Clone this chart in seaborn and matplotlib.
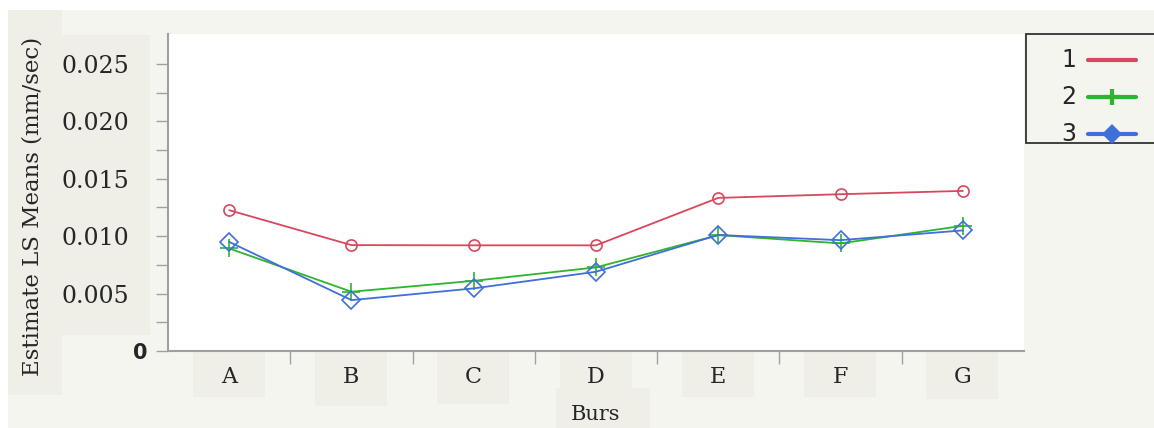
import numpy as np
import pandas as pd
import seaborn as sns
import matplotlib.pyplot as plt
from matplotlib.lines import Line2D
from matplotlib.patches import Rectangle
from matplotlib.ticker import FixedLocator

# data
burs = ['A', 'B', 'C', 'D', 'E', 'F', 'G']
series_1 = [0.01226, 0.00922, 0.00920, 0.00920, 0.01333, 0.01365, 0.01394]
series_2 = [0.00893, 0.00516, 0.00611, 0.00728, 0.01009, 0.00937, 0.01090]
series_3 = [0.00950, 0.00443, 0.00545, 0.00690, 0.01010, 0.00965, 0.01050]
series_names = ['1', '2', '3']

df = pd.DataFrame({
    'Burs': burs * 3,
    'value': series_1 + series_2 + series_3,
    'group': np.repeat(series_names, len(burs)),
})

colors = {'1': '#D9475E', '2': '#2DB52D', '3': '#3F6FD9'}
markers = {'1': 'o', '2': '+', '3': 'D'}
msize = {'1': 8, '2': 13.5, '3': 9}

sns.set_style('white')
plt.rcParams['font.family'] = ['DejaVu Serif', 'DejaVu Sans']

fig = plt.figure(figsize=(11.54, 4.28), dpi=100, facecolor='white')
W, H = 1154, 428

# background panels (light grey page + darker label boxes)
def px_rect(x0, y0, x1, y1, color):
    fig.add_artist(Rectangle((x0 / W, 1 - y1 / H), (x1 - x0) / W, (y1 - y0) / H,
                             transform=fig.transFigure, facecolor=color,
                             edgecolor='none', zorder=-10))

px_rect(8, 10, W, H, '#F5F5F0')
px_rect(8, 10, 62, 395, '#EFEFE8')
px_rect(62, 35, 150, 335, '#EFEFE8')
for cx, y1 in zip([229, 351, 473, 596, 718, 840, 962], [397, 406, 404, 390, 397, 397, 399]):
    px_rect(cx - 36, 352, cx + 36, y1, '#EFEFE8')
px_rect(556, 388, 650, H, '#EFEFE8')

ax = fig.add_axes([168 / W, 1 - 351 / H, (1024 - 168) / W, (351 - 34) / H])
ax.set_facecolor('white')

for name in series_names:
    sub = df[df['group'] == name]
    sns.lineplot(data=sub, x='Burs', y='value', ax=ax, color=colors[name],
                 marker=markers[name], markersize=msize[name], sort=False,
                 linewidth=1.3, markerfacecolor='none', markeredgecolor=colors[name],
                 markeredgewidth=1.2, legend=False)

ax.set_xlim(-0.5, 6.5)
ax.set_ylim(0, 0.0276)

ax.yaxis.set_major_locator(FixedLocator([0, 0.005, 0.010, 0.015, 0.020, 0.025]))
ax.yaxis.set_minor_locator(FixedLocator([0.0025, 0.0075, 0.0125, 0.0175, 0.0225]))
ax.set_yticklabels(['0', '0.005', '0.010', '0.015', '0.020', '0.025'])
ax.xaxis.set_minor_locator(FixedLocator(np.arange(0.5, 6, 1)))

ax.tick_params(axis='y', which='both', direction='out', length=9, width=1,
               color='#A0A0A0', labelsize=17, pad=19, left=True)
ax.tick_params(axis='x', which='major', length=0, labelsize=16, pad=11)
ax.tick_params(axis='x', which='minor', direction='out', length=9, width=1,
               color='#A0A0A0', bottom=True)

# the "0" label is drawn in a different (sans, bold) font, closer to the axis
ax.yaxis.get_major_ticks()[0].set_pad(6)
zero = ax.get_yticklabels()[0]
zero.set_fontfamily('DejaVu Sans')
zero.set_fontweight('bold')
zero.set_fontsize(15)

for s in ['top', 'right']:
    ax.spines[s].set_visible(False)
for s in ['left', 'bottom']:
    ax.spines[s].set_color('#A0A0A0')
    ax.spines[s].set_linewidth(1.5)

ax.set_xlabel('Burs', fontsize=15, labelpad=12)
ax.set_ylabel('Estimate LS Means (mm/sec)', fontsize=16.5)
ax.yaxis.set_label_coords(-0.146, 0.457)

# legend box on the right
fig.add_artist(Rectangle((1026 / W, 1 - 143 / H), 140 / W, 109 / H,
                         transform=fig.transFigure, facecolor='#F5F5F0',
                         edgecolor='#333333', linewidth=1.3, zorder=5))
for i, name in enumerate(series_names):
    yy = 1 - (60 + 37 * i) / H
    fig.text(1069 / W, yy, name, fontsize=17, family='DejaVu Sans',
             ha='center', va='center', zorder=6)
    mk = {'1': 'None', '2': '+', '3': 'D'}[name]
    x0, x1 = 1088 / W, 1136 / W
    fig.add_artist(Line2D([x0, (x0 + x1) / 2, x1], [yy, yy, yy], transform=fig.transFigure,
                          color=colors[name], linewidth=3, marker=mk, markevery=[1],
                          markersize=12 if mk == '+' else 7, markeredgewidth=3, zorder=6))

fig.savefig('out.png', dpi=100, facecolor=fig.get_facecolor())
